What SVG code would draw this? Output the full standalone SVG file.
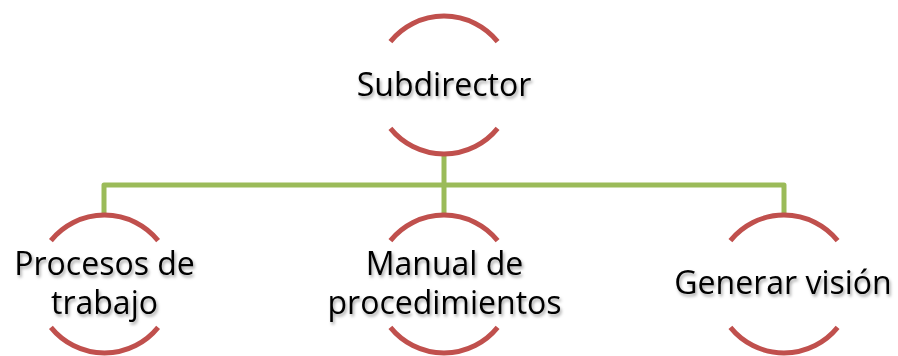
<svg xmlns="http://www.w3.org/2000/svg" width="898" height="356" viewBox="0 0 898 356">
<defs>
<style>
.arc{fill:none;stroke:#C0504D;stroke-width:5}
.conn{fill:none;stroke:#9BBB59;stroke-width:5;stroke-linejoin:round}
.lbl{font-family:"Open Sans","Noto Sans",sans-serif;font-size:32px;fill:#000;text-anchor:middle;filter:url(#sh)}
</style>
<filter id="sh" x="-10%" y="-30%" width="120%" height="160%">
<feDropShadow dx="1.5" dy="2.5" stdDeviation="1.6" flood-color="#000" flood-opacity="0.35"/>
</filter>
</defs>
<rect width="898" height="356" fill="#fff"/>
<g id="connectors">
<path class="conn" d="M104 214 V185 H784 V214"/>
<path class="conn" d="M444 154 V214"/>
</g>
<g id="n-subdirector">
<path class="arc" d="M390.4 41.6 A69 69 0 0 1 497.6 41.6"/>
<path class="arc" d="M390.4 128.4 A69 69 0 0 0 497.6 128.4"/>
<text class="lbl" x="444" y="96">Subdirector</text>
</g>
<g id="n-procesos">
<path class="arc" d="M50.9 240.6 A69 69 0 0 1 158.1 240.6"/>
<path class="arc" d="M50.9 327.4 A69 69 0 0 0 158.1 327.4"/>
<text class="lbl" x="104.5" y="275">Procesos de</text>
<text class="lbl" x="104.5" y="314">trabajo</text>
</g>
<g id="n-manual">
<path class="arc" d="M390.4 240.6 A69 69 0 0 1 497.6 240.6"/>
<path class="arc" d="M390.4 327.4 A69 69 0 0 0 497.6 327.4"/>
<text class="lbl" x="444.5" y="275">Manual de</text>
<text class="lbl" x="444.5" y="314">procedimientos</text>
</g>
<g id="n-vision">
<path class="arc" d="M730.4 240.6 A69 69 0 0 1 837.6 240.6"/>
<path class="arc" d="M730.4 327.4 A69 69 0 0 0 837.6 327.4"/>
<text class="lbl" x="783" y="294">Generar visión</text>
</g>
</svg>
